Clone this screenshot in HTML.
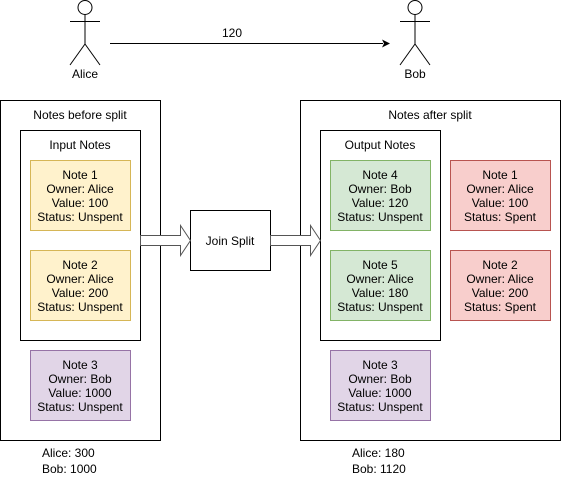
<!DOCTYPE html>
<html><head><style>
body{margin:0;background:#fff;}
svg{display:block;font-family:"Liberation Sans",Helvetica,Arial,sans-serif;font-size:12px;}
</style></head><body>
<svg width="561" height="477" viewBox="0 0 561 477" xmlns="http://www.w3.org/2000/svg">
<g stroke="#000" fill="none" stroke-width="1">
<circle cx="85" cy="7.5" r="7"/>
<line x1="85" y1="14.5" x2="85" y2="44"/>
<line x1="70" y1="21.5" x2="100" y2="21.5"/>
<line x1="85" y1="44" x2="70" y2="65"/>
<line x1="85" y1="44" x2="100" y2="65"/>
<circle cx="415" cy="7.5" r="7"/>
<line x1="415" y1="14.5" x2="415" y2="44"/>
<line x1="400" y1="21.5" x2="430" y2="21.5"/>
<line x1="415" y1="44" x2="400" y2="65"/>
<line x1="415" y1="44" x2="430" y2="65"/>
<line x1="110" y1="43.5" x2="383" y2="43.5"/>
</g>
<path d="M390 43.5 L382 39.5 L384 43.5 L382 47.5 Z" fill="#000"/>
<g text-anchor="middle" fill="#000">
<text x="85" y="78">Alice</text>
<text x="415" y="78">Bob</text>
<text x="232" y="37">120</text>
</g>
<g stroke="#000" fill="#fff">
<rect x="0.5" y="100.5" width="160" height="340"/>
<rect x="300.5" y="100.5" width="260" height="340"/>
<rect x="20.5" y="130.5" width="120" height="210"/>
<rect x="320.5" y="130.5" width="120" height="210"/>
<rect x="190.5" y="210.5" width="80" height="60"/>
</g>
<g stroke="#555" fill="#fff">
<path d="M140.5 235.5 H180.5 V225.5 L190.5 240.5 L180.5 255.5 V245.5 H140.5 Z"/>
<path d="M270.5 235.5 H310.5 V225.5 L320.5 240.5 L310.5 255.5 V245.5 H270.5 Z"/>
</g>
<g>
<rect x="30.5" y="160.5" width="100" height="70" fill="#fff2cc" stroke="#d6b656"/>
<rect x="30.5" y="250.5" width="100" height="70" fill="#fff2cc" stroke="#d6b656"/>
<rect x="30.5" y="350.5" width="100" height="70" fill="#e1d5e7" stroke="#9673a6"/>
<rect x="330.5" y="160.5" width="100" height="70" fill="#d5e8d4" stroke="#82b366"/>
<rect x="330.5" y="250.5" width="100" height="70" fill="#d5e8d4" stroke="#82b366"/>
<rect x="330.5" y="350.5" width="100" height="70" fill="#e1d5e7" stroke="#9673a6"/>
<rect x="450.5" y="160.5" width="100" height="70" fill="#f8cecc" stroke="#b85450"/>
<rect x="450.5" y="250.5" width="100" height="70" fill="#f8cecc" stroke="#b85450"/>
</g>
<g text-anchor="middle" fill="#000">
<text x="80" y="119">Notes before split</text>
<text x="430" y="119">Notes after split</text>
<text x="80" y="149">Input Notes</text>
<text x="380" y="149">Output Notes</text>
<text x="230" y="245">Join Split</text>

<text x="80" y="179">Note 1</text><text x="80" y="193">Owner: Alice</text><text x="80" y="207">Value: 100</text><text x="80" y="221">Status: Unspent</text>
<text x="80" y="269">Note 2</text><text x="80" y="283">Owner: Alice</text><text x="80" y="297">Value: 200</text><text x="80" y="311">Status: Unspent</text>
<text x="80" y="369">Note 3</text><text x="80" y="383">Owner: Bob</text><text x="80" y="397">Value: 1000</text><text x="80" y="411">Status: Unspent</text>

<text x="380" y="179">Note 4</text><text x="380" y="193">Owner: Bob</text><text x="380" y="207">Value: 120</text><text x="380" y="221">Status: Unspent</text>
<text x="380" y="269">Note 5</text><text x="380" y="283">Owner: Alice</text><text x="380" y="297">Value: 180</text><text x="380" y="311">Status: Unspent</text>
<text x="380" y="369">Note 3</text><text x="380" y="383">Owner: Bob</text><text x="380" y="397">Value: 1000</text><text x="380" y="411">Status: Unspent</text>

<text x="500" y="179">Note 1</text><text x="500" y="193">Owner: Alice</text><text x="500" y="207">Value: 100</text><text x="500" y="221">Status: Spent</text>
<text x="500" y="269">Note 2</text><text x="500" y="283">Owner: Alice</text><text x="500" y="297">Value: 200</text><text x="500" y="311">Status: Spent</text>
</g>
<g fill="#000">
<text x="42" y="457">Alice: 300</text>
<text x="42" y="473">Bob: 1000</text>
<text x="352" y="457">Alice: 180</text>
<text x="352" y="473">Bob: 1120</text>
</g>
</svg>
</body></html>
